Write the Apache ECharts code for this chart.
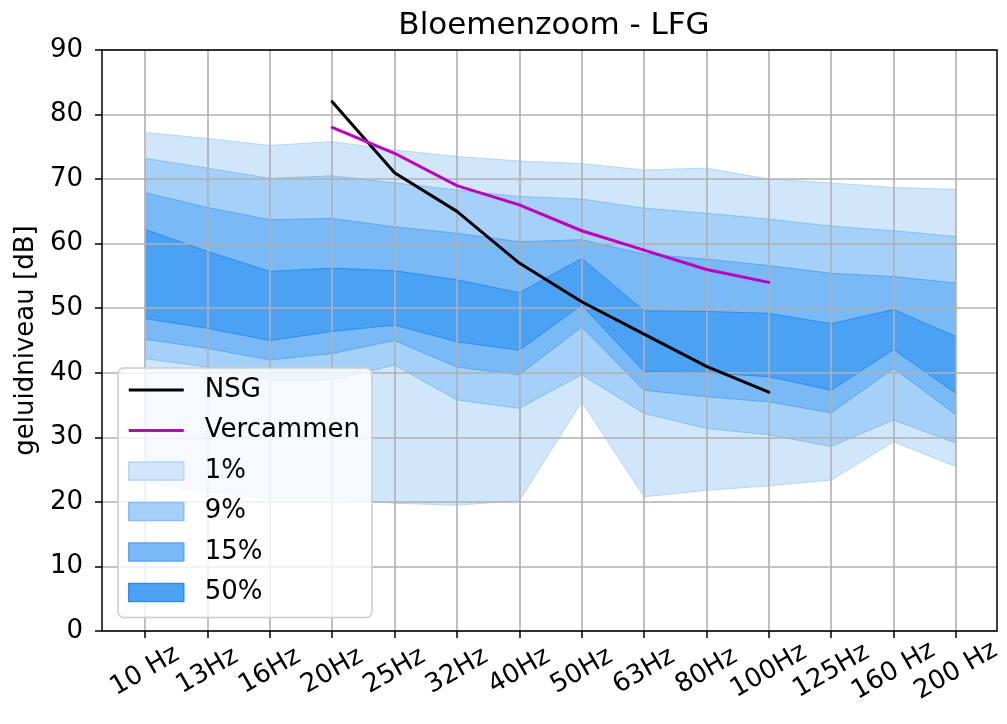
<!DOCTYPE html>
<html>
<head>
<meta charset="utf-8">
<title>Bloemenzoom - LFG</title>
<script src="https://cdn.jsdelivr.net/npm/echarts@6/dist/echarts.min.js"></script>
<style>
  html, body { margin: 0; padding: 0; background: #ffffff; }
  #chart { width: 1007px; height: 724px; }
</style>
</head>
<body>
<div id="chart"></div>
<script>
// Third-octave bands on the horizontal axis
const freqLabels = ['10 Hz', '13Hz', '16Hz', '20Hz', '25Hz', '32Hz', '40Hz', '50Hz', '63Hz', '80Hz', '100Hz', '125Hz', '160 Hz', '200 Hz'];

// Limit curves (dB)
const nsg       = [null, null, null, 82, 71, 65, 57, 51, 46, 41, 37, null, null, null];
const vercammen = [null, null, null, 78, 74, 69, 66, 62, 59, 56, 54, null, null, null];

// Percentile bands: lower and upper edge per band (dB)
const p1Lo  = [23.0, 21.5, 20.5, 20.5, 19.8, 19.5, 20.2, 35.5, 20.8, 21.8, 22.5, 23.4, 29.3, 25.5];
const p1Hi  = [77.2, 76.3, 75.2, 75.8, 74.5, 73.5, 72.8, 72.4, 71.4, 71.7, 70.0, 69.4, 68.7, 68.4];
const p9Lo  = [42.2, 40.9, 38.9, 38.9, 41.2, 35.8, 34.5, 39.7, 33.7, 31.4, 30.4, 28.6, 32.7, 29.1];
const p9Hi  = [73.2, 71.7, 70.1, 70.5, 69.4, 68.3, 67.3, 66.9, 65.5, 64.7, 63.8, 62.7, 62.0, 61.1];
const p15Lo = [45.2, 43.8, 42.0, 43.0, 45.0, 40.9, 39.7, 47.1, 37.3, 36.3, 35.5, 33.8, 40.7, 33.5];
const p15Hi = [67.9, 65.6, 63.7, 63.9, 62.6, 61.6, 60.3, 60.6, 58.4, 57.6, 56.6, 55.4, 54.9, 53.9];
const p50Lo = [48.4, 46.9, 45.0, 46.4, 47.4, 44.8, 43.5, 50.5, 40.2, 40.0, 39.4, 37.3, 43.6, 36.8];
const p50Hi = [62.2, 58.8, 55.7, 56.2, 55.8, 54.4, 52.4, 57.7, 49.6, 49.5, 49.2, 47.6, 49.8, 45.6];

const yTicks = { min: 0, max: 90, interval: 10 };

const FONT = 'DejaVu Sans';
const FONT_SIZE = 26;
const GRID_GRAY = '#b0b0b0';

const bands = [
  { name: '1%',  lo: p1Lo,  hi: p1Hi,  fill: '#d0e6fb', edge: '#b3d6f9' },
  { name: '9%',  lo: p9Lo,  hi: p9Hi,  fill: '#a5d0f8', edge: '#85bff5' },
  { name: '15%', lo: p15Lo, hi: p15Hi, fill: '#79b9f6', edge: '#58a8f3' },
  { name: '50%', lo: p50Lo, hi: p50Hi, fill: '#4ba2f5', edge: '#2b8ef0' }
];

const lines = [
  { name: 'NSG',       data: nsg,       color: '#000000' },
  { name: 'Vercammen', data: vercammen, color: '#bf00bf' }
];

// Each band = invisible base (lower edge) + stacked thickness filled down to the base
const bandSeries = [];
bands.forEach(b => {
  bandSeries.push({
    name: b.name, type: 'line', stack: 'band' + b.name,
    xAxisIndex: 1, yAxisIndex: 1,
    data: b.lo, symbol: 'none', silent: true, z: 3,
    lineStyle: { color: b.edge, width: 1 },
    itemStyle: { color: b.fill }
  });
  bandSeries.push({
    name: b.name, type: 'line', stack: 'band' + b.name,
    xAxisIndex: 1, yAxisIndex: 1,
    data: b.hi.map((v, i) => +(v - b.lo[i]).toFixed(2)),
    symbol: 'none', silent: true, z: 2,
    lineStyle: { color: b.edge, width: 1 },
    areaStyle: { color: b.fill, opacity: 1 },
    itemStyle: { color: b.fill }
  });
});

const lineSeries = lines.map(l => ({
  name: l.name, type: 'line', xAxisIndex: 1, yAxisIndex: 1, data: l.data,
  symbol: 'none', z: 8, connectNulls: false,
  lineStyle: { color: l.color, width: 3, join: 'round', cap: 'round' },
  itemStyle: { color: l.color }
}));

const chart = echarts.init(document.getElementById('chart'), null, { renderer: 'canvas' });

const option = {
  backgroundColor: '#ffffff',
  animation: false,
  title: {
    text: 'Bloemenzoom - LFG',
    left: 549, top: 5, textAlign: 'center',
    textStyle: { fontFamily: FONT, fontSize: 31, fontWeight: 'normal', color: '#000' }
  },
  legend: {
    orient: 'vertical',
    left: 118, top: 368,
    z: 10,
    padding: [9, 12, 12, 10],
    itemWidth: 55, itemHeight: 18, itemGap: 14.5,
    symbolKeepAspect: true,
    backgroundColor: 'rgba(255,255,255,0.8)',
    borderColor: '#cccccc', borderWidth: 1.5, borderRadius: 6,
    selectedMode: false,
    textStyle: { fontFamily: FONT, fontSize: FONT_SIZE, color: '#000', padding: [0, 0, 0, 16] },
    data: [
      ...lines.map(l => ({ name: l.name, icon: 'path://M0,0H55V3H0Z', itemStyle: { color: l.color } })),
      ...bands.map(b => ({ name: b.name, icon: 'rect', itemStyle: { color: b.fill, borderColor: b.edge, borderWidth: 1.5 } }))
    ]
  },
  grid: [
    // frame + y scale
    { left: 102, right: 10, top: 50, bottom: 93, show: true, z: 6,
      backgroundColor: 'transparent', borderColor: '#000', borderWidth: 1.5,
      outerBoundsMode: 'none', containLabel: false },
    // category positions of the frequency bands
    { left: 145, right: 51, top: 50, bottom: 93,
      outerBoundsMode: 'none', containLabel: false }
  ],
  xAxis: [
    { gridIndex: 0, type: 'value', show: false, min: 0, max: 1 },
    {
      gridIndex: 1, type: 'category', data: freqLabels, boundaryGap: false, z: 5,
      axisLine: { show: false },
      axisTick: { show: true, inside: false, length: 7, lineStyle: { color: '#000', width: 1.5 } },
      splitLine: { show: true, lineStyle: { color: GRID_GRAY, width: 1.6 } },
      axisLabel: {
        interval: 0, rotate: 30, align: 'center', verticalAlign: 'middle', margin: 40,
        fontFamily: FONT, fontSize: FONT_SIZE, color: '#000', hideOverlap: false
      }
    }
  ],
  yAxis: [
    {
      gridIndex: 0, type: 'value', min: yTicks.min, max: yTicks.max, interval: yTicks.interval, z: 5,
      name: 'geluidniveau [dB]', nameLocation: 'middle', nameGap: 58, nameRotate: 90,
      nameTextStyle: { fontFamily: FONT, fontSize: FONT_SIZE, color: '#000' },
      axisLine: { show: false },
      axisTick: { show: true, inside: false, length: 7, lineStyle: { color: '#000', width: 1.5 } },
      splitLine: { show: true, lineStyle: { color: GRID_GRAY, width: 1.6 } },
      axisLabel: { margin: 19, fontFamily: FONT, fontSize: FONT_SIZE, color: '#000' }
    },
    { gridIndex: 1, type: 'value', min: yTicks.min, max: yTicks.max, show: false }
  ],
  series: [...bandSeries, ...lineSeries]
};

chart.setOption(option);
</script>
</body>
</html>
